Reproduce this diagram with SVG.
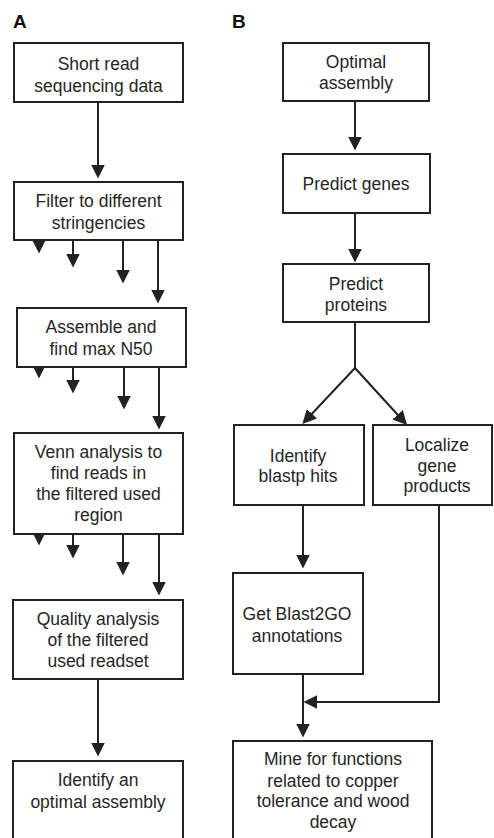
<svg xmlns="http://www.w3.org/2000/svg" width="494" height="838" viewBox="0 0 494 838">
<defs>
<style>
.box{fill:#fff;stroke:#222;stroke-width:2}
.t{font-family:"Liberation Sans",Arial,sans-serif;font-size:17.5px;fill:#262626;text-anchor:middle}
.lbl{font-family:"Liberation Sans",Arial,sans-serif;font-size:19px;font-weight:bold;fill:#111}
.c{fill:none;stroke:#222;stroke-width:2}
.a{marker-end:url(#ah)}
</style>
<marker id="ah" markerUnits="userSpaceOnUse" markerWidth="14" markerHeight="14" refX="6" refY="6.5" orient="auto" viewBox="0 0 13 13">
<path d="M0,0 L13,6.5 L0,13 z" fill="#222"/>
</marker>
</defs>
<rect width="494" height="838" fill="#fff"/>
<text class="lbl" x="13" y="28">A</text>
<text class="lbl" x="232" y="28">B</text>

<g id="connectors">
<line class="c a" x1="98" y1="102" x2="98" y2="171"/>
<line class="c a" x1="39" y1="240" x2="39" y2="246"/>
<line class="c a" x1="73" y1="240" x2="73" y2="260"/>
<line class="c a" x1="123" y1="240" x2="123" y2="276"/>
<line class="c a" x1="158" y1="240" x2="158" y2="296"/>
<line class="c a" x1="39" y1="367" x2="39" y2="371"/>
<line class="c a" x1="73" y1="367" x2="73" y2="386"/>
<line class="c a" x1="124" y1="367" x2="124" y2="402"/>
<line class="c a" x1="159" y1="367" x2="159" y2="422"/>
<line class="c a" x1="39" y1="534" x2="39" y2="538"/>
<line class="c a" x1="73" y1="534" x2="73" y2="551"/>
<line class="c a" x1="123" y1="534" x2="123" y2="568"/>
<line class="c a" x1="159" y1="534" x2="159" y2="588"/>
<line class="c a" x1="98" y1="679" x2="98" y2="749"/>
<line class="c a" x1="355" y1="101" x2="355" y2="143"/>
<line class="c a" x1="355" y1="213" x2="355" y2="255"/>
<polyline class="c" points="355,322 355,368"/>
<line class="c a" x1="355" y1="368" x2="307.5" y2="418.5"/>
<line class="c a" x1="355" y1="368" x2="402" y2="419.5"/>
<line class="c a" x1="303" y1="505" x2="303" y2="561"/>
<line class="c a" x1="303" y1="674" x2="303" y2="730"/>
<polyline class="c a" points="439,505 439,702 311,702"/>
</g>

<g id="n1"><rect class="box" x="14" y="43" width="169" height="59"/>
<text class="t" x="98.5" y="70">Short read</text><text class="t" x="98.5" y="92">sequencing data</text></g>
<g id="n2"><rect class="box" x="14" y="182" width="169" height="58"/>
<text class="t" x="98.5" y="207">Filter to different</text><text class="t" x="98.5" y="229">stringencies</text></g>
<g id="n3"><rect class="box" x="17" y="308" width="169" height="59"/>
<text class="t" x="101" y="333">Assemble and</text><text class="t" x="101" y="355">find max N50</text></g>
<g id="n4"><rect class="box" x="14" y="433" width="169" height="101"/>
<text class="t" x="98.5" y="458">Venn analysis to</text><text class="t" x="98.5" y="479">find reads in</text><text class="t" x="98.5" y="500">the filtered used</text><text class="t" x="98.5" y="521">region</text></g>
<g id="n5"><rect class="box" x="13" y="600" width="170" height="79"/>
<text class="t" x="98" y="625">Quality analysis</text><text class="t" x="98" y="646">of the filtered</text><text class="t" x="98" y="667">used readset</text></g>
<g id="n6"><rect class="box" x="13" y="761" width="170" height="90"/>
<text class="t" x="98" y="786">Identify an</text><text class="t" x="98" y="808">optimal assembly</text></g>

<g id="m1"><rect class="box" x="283" y="43" width="146" height="58"/>
<text class="t" x="356" y="68">Optimal</text><text class="t" x="356" y="89">assembly</text></g>
<g id="m2"><rect class="box" x="283" y="154" width="147" height="59"/>
<text class="t" x="356" y="190">Predict genes</text></g>
<g id="m3"><rect class="box" x="283" y="264" width="146" height="58"/>
<text class="t" x="356" y="290">Predict</text><text class="t" x="356" y="311">proteins</text></g>
<g id="m4"><rect class="box" x="234" y="425" width="130" height="80"/>
<text class="t" x="298" y="462">Identify</text><text class="t" x="298" y="482">blastp hits</text></g>
<g id="m5"><rect class="box" x="373" y="425" width="119" height="80"/>
<text class="t" x="437" y="451">Localize</text><text class="t" x="437" y="472">gene</text><text class="t" x="437" y="492">products</text></g>
<g id="m6"><rect class="box" x="233" y="573" width="130" height="101"/>
<text class="t" x="297" y="620">Get Blast2GO</text><text class="t" x="297" y="642">annotations</text></g>
<g id="m7"><rect class="box" x="233" y="741" width="199" height="110"/>
<text class="t" x="333" y="765">Mine for functions</text><text class="t" x="333" y="787">related to copper</text><text class="t" x="333" y="807">tolerance and wood</text><text class="t" x="333" y="828">decay</text></g>
</svg>
